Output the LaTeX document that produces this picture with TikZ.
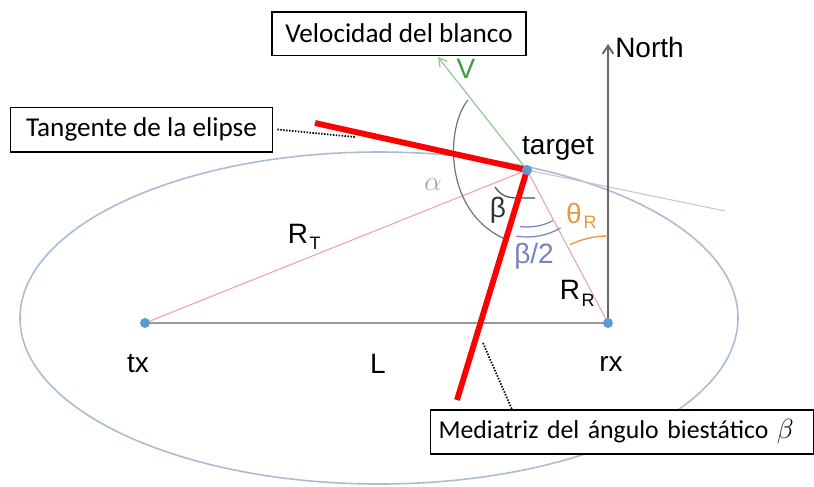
\documentclass[tikz,border=0pt]{standalone}
\usepackage{fontspec}
\setmainfont{Liberation Sans}
\newfontfamily\boxfont{Carlito}
\usetikzlibrary{arrows.meta}
\definecolor{ellc}{HTML}{A9BCD6}
\definecolor{dotc}{HTML}{5B9BD5}
\definecolor{pinkc}{HTML}{E9A3A3}
\definecolor{greenl}{HTML}{8CCB8C}
\definecolor{greent}{HTML}{3E9E3E}
\definecolor{bluet}{HTML}{7480C0}
\definecolor{orangec}{HTML}{E8963C}
\begin{document}
\begin{tikzpicture}[x=0.75pt,y=-0.75pt,
  lbl/.style={inner sep=0pt, font=\fontsize{21}{25}\selectfont},
  sublbl/.style={inner sep=0pt, font=\fontsize{13.5}{15}\selectfont},
  boxnode/.style={draw=black, line width=0.8pt, fill=white, inner xsep=6pt,
     font=\boxfont\fontsize{20.4}{24}\selectfont},
  redline/.style={red, line width=4.4pt},
  dotline/.style={black, line width=1.3pt, dash pattern=on 1.1pt off 1.1pt},
  pt/.style={circle, fill=dotc, inner sep=0pt, minimum size=7.5pt},
  pinkline/.style={pinkc, line width=0.8pt}]
\useasboundingbox (0,0) rectangle (814,486);
% ellipse
\draw[ellc, line width=1.2pt] (379,318) ellipse [x radius=359, y radius=166];
% points
\coordinate (tgt) at (527,170);
\coordinate (txc) at (145,323);
\coordinate (rxc) at (608,323);
% tangent continuation
\coordinate (tanR) at (725,211);
\draw[black!22, line width=0.8pt] (tgt) -- (tanR);
% baseline tx-rx
\draw[black!40, line width=1.8pt] (txc) -- (rxc);
% pink ranges
\draw[pinkline] (tgt) -- (txc);
\draw[pinkline] (tgt) -- (rxc);
% North
\coordinate (northtip) at (608,44);
\draw[black!60, line width=1.5pt, -{Straight Barb[length=6pt,width=8pt]}] (rxc) -- (northtip);
\node[lbl, anchor=west] (north) at (615,47) {North};
% velocity
\coordinate (vtip) at (438,57);
\draw[greenl, line width=0.9pt, -{Straight Barb[length=6pt,width=7pt]}] (tgt) -- (vtip);
\node[lbl, text=greent] (vlab) at (466,69) {V};
% alpha arc
\draw[black!55, line width=0.9pt] (468,100) .. controls (446,126) and (443,210) .. (503,238);
\node[inner sep=0pt, text=black!35, font=\fontsize{22}{24}\selectfont] (alab) at (433,185) {$\alpha$};
% beta arc
\draw[black!70, line width=0.9pt] (495,187) .. controls (501,196) and (508,198) .. (518,198) -- (535,198);
\node[lbl, text=black!80] (blab) at (498,210) {β};
% beta/2 arcs
\draw[bluet, line width=0.9pt] (tgt) ++(63:57) arc[start angle=63, end angle=97, radius=57];
\draw[bluet, line width=0.9pt] (tgt) ++(60:67) arc[start angle=60, end angle=99, radius=67];
\node[lbl, text=bluet] (b2lab) at (534,256) {β/2};
% theta_R arc
\draw[orangec, line width=1pt] (rxc) ++(244:87) arc[start angle=244, end angle=270, radius=87];
\node[lbl, text=orangec] (thlab) at (574,213) {θ};
\node[sublbl, text=orangec] (thsub) at (590,222) {R};
% R labels
\node[lbl] (rtlab) at (298,234) {R};
\node[sublbl] (rtsub) at (315,243) {T};
\node[lbl] (rrlab) at (570,290) {R};
\node[sublbl] (rrsub) at (588,300) {R};
% red lines
\coordinate (tanL) at (315,123);
\coordinate (medB) at (457,400);
\draw[redline] (tanL) -- (tgt);
\draw[redline] (tgt) -- (medB);
% dots
\node[pt] (target) at (tgt) {};
\node[pt] (tx) at (txc) {};
\node[pt] (rx) at (rxc) {};
% labels
\node[lbl] (targetlab) at (558,148) {target};
\node[lbl] (txlab) at (138,364) {tx};
\node[lbl] (Llab) at (378,364) {L};
\node[lbl] (rxlab) at (611,364) {rx};
% boxes
\node[boxnode, minimum width=190.5pt, minimum height=32.3pt] (velbox) at (399,33.5) {Velocidad del blanco};
\node[boxnode, minimum width=197pt, minimum height=33.7pt] (tanbox) at (141.5,129.5) {Tangente de la elipse};
\node[boxnode, anchor=west, minimum height=33pt, text width=275pt, align=left, font=\boxfont\fontsize{19.3}{23}\selectfont] (medbox) at (430,432) {Mediatriz del ángulo biestático {\fontsize{22}{23}\selectfont$\beta$}};
% dotted callouts
\coordinate (tanPt) at (355,137);
\draw[dotline] ([xshift=3pt]tanbox.east) -- (tanPt);
\coordinate (medPt) at (483,343);
\draw[dotline] (medPt) -- ([xshift=61.5pt]medbox.north west);
\end{tikzpicture}
\end{document}
